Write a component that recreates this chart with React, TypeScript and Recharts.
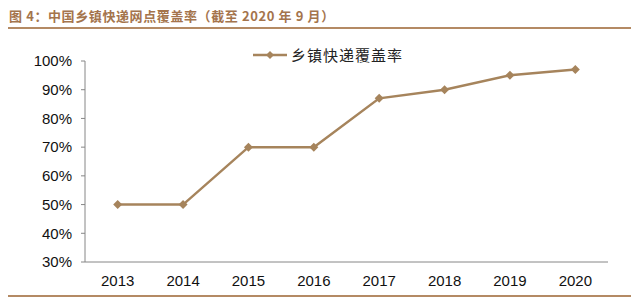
import { LineChart, Line, XAxis, YAxis } from 'recharts';

const years = ['2013', '2014', '2015', '2016', '2017', '2018', '2019', '2020'];
const coverage = [50, 50, 70, 70, 87, 90, 95, 97];
const yTicks = [30, 40, 50, 60, 70, 80, 90, 100];
const seriesName = '乡镇快递覆盖率';
const title = '图 4：中国乡镇快递网点覆盖率（截至 2020 年 9 月）';

const data = years.map((year, i) => ({ pos: i + 0.5, year, rate: coverage[i] }));
const boundaryTicks = years.map((_, i) => i).concat(years.length);
const centerTicks = years.map((_, i) => i + 0.5);

const LINE = '#a6845c';
const BROWN = '#a4744c';
const AXIS = '#868686';

const Diamond = (props: any) => {
  const { cx, cy } = props;
  if (cx == null || cy == null) return null;
  const r = 4.5;
  return <path d={`M${cx},${cy - r}L${cx + r},${cy}L${cx},${cy + r}L${cx - r},${cy}Z`} fill={LINE} />;
};

const App = () => {
  return (
    <div style={{ position: 'absolute', left: 0, top: 0, width: 640, height: 301, background: '#fff', fontFamily: 'Arial, "Liberation Sans", sans-serif' }}>
      <div style={{ position: 'absolute', left: 9, top: 6, fontSize: 13, fontWeight: 'bold', color: BROWN, fontFamily: '"Noto Sans CJK SC", sans-serif', whiteSpace: 'nowrap', letterSpacing: 0.6 }}>
        {title}
      </div>
      <div style={{ position: 'absolute', left: 8, top: 27, width: 623, height: 2, background: '#b48a64' }} />
      <div style={{ position: 'absolute', left: 8, top: 295, width: 623, height: 2, background: '#b48a64' }} />
      <div style={{ position: 'absolute', left: 253, top: 44, display: 'flex', alignItems: 'center', whiteSpace: 'nowrap' }}>
        <svg width={34} height={12}>
          <line x1={0} y1={6} x2={34} y2={6} stroke={LINE} strokeWidth={2.5} />
          <path d="M17,2L21,6L17,10L13,6Z" fill={LINE} />
        </svg>
        <span style={{ marginLeft: 4, fontSize: 15, color: '#222', fontFamily: '"Noto Sans CJK SC", sans-serif', letterSpacing: 1 }}>{seriesName}</span>
      </div>
      <div style={{ position: 'absolute', left: 0, top: 0 }}>
        <LineChart width={640} height={301} data={data} margin={{ top: 61, right: 32, bottom: 0, left: 0 }}>
          <XAxis
            xAxisId="a_marks"
            dataKey="pos"
            type="number"
            domain={[0, years.length]}
            ticks={boundaryTicks}
            tick={false}
            tickSize={4}
            height={10}
            stroke={AXIS}
            allowDataOverflow
          />
          <XAxis
            xAxisId="b_labels"
            dataKey="pos"
            type="number"
            domain={[0, years.length]}
            ticks={centerTicks}
            tickFormatter={(v: number) => years[Math.floor(v)]}
            axisLine={false}
            tickLine={false}
            tickSize={0}
            tickMargin={3}
            height={29}
            tick={{ fill: '#111', fontSize: 15 }}
            interval={0}
          />
          <YAxis
            domain={[30, 100]}
            ticks={yTicks}
            tickFormatter={(v: number) => `${v}%`}
            width={85}
            stroke={AXIS}
            tickSize={4}
            tickMargin={9}
            tick={{ fill: '#111', fontSize: 15 }}
            interval={0}
          />
          <Line
            xAxisId="a_marks"
            dataKey="rate"
            stroke={LINE}
            strokeWidth={2.5}
            dot={<Diamond />}
            activeDot={false}
            isAnimationActive={false}
          />
        </LineChart>
      </div>
    </div>
  );
};

export default App;
